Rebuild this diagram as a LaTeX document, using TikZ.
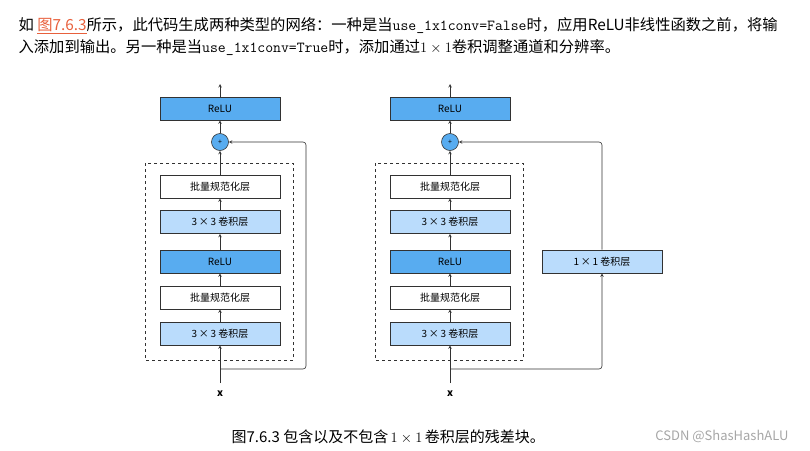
\documentclass[tikz,border=0pt]{standalone}
\usepackage{fontspec}
\setmainfont{Noto Sans CJK SC}
\newfontfamily\cjk{Noto Sans CJK SC}
\usetikzlibrary{positioning}
\usetikzlibrary{arrows}
\definecolor{darkblue}{RGB}{88,172,240}
\definecolor{lightblue}{RGB}{186,220,252}
\definecolor{linkred}{RGB}{232,96,60}
\definecolor{edge}{RGB}{50,50,50}

\begin{document}
\begin{tikzpicture}[
            x = 1pt, y = -1pt,
            > = stealth, % arrow head style
            semithick, % line style
            draw = edge,
            layer/.style = {draw = edge, minimum width = 120pt, minimum height = 23pt,
                inner sep = 0pt, font = \fontsize{10}{10}\selectfont},
            relu/.style = {layer, fill = darkblue},
            conv/.style = {layer, fill = lightblue},
            bn/.style = {layer, fill = white},
            plus/.style = {circle, draw = edge, fill = darkblue, minimum size = 17pt,
                inner sep = 0pt, font = \fontsize{7}{7}\selectfont}
        ]
        \useasboundingbox (0,0) rectangle (810,450);

        % intro text
        \node[anchor = west, font = \fontsize{15.3}{15.3}\selectfont] (line1) at (15,26)
            {如 \textcolor{linkred}{\underline{图7.6.3}}所示，此代码生成两种类型的网络：一种是当\texttt{use\_1x1conv=False}时，应用ReLU非线性函数之前，将输};
        \node[anchor = west, font = \fontsize{15.3}{15.3}\selectfont] (line2) at (15,48)
            {入添加到输出。另一种是当\texttt{use\_1x1conv=True}时，添加通过$1\times1$卷积调整通道和分辨率。};

        \foreach \name/\cx in {L/220, R/450} {
            % block
            \node[relu] (\name top) at (\cx,108.5) {ReLU};
            \node[plus] (\name add) at (\cx,142) {+};
            \node[bn] (\name bnb) at (\cx,186.5) {批量规范化层};
            \node[conv] (\name convb) at (\cx,222) {3\,×\,3 卷积层};
            \node[relu] (\name relu) at (\cx,261.5) {ReLU};
            \node[bn] (\name bna) at (\cx,297.5) {批量规范化层};
            \node[conv] (\name conva) at (\cx,333.5) {3\,×\,3 卷积层};
            \node[font = \fontsize{10}{10}\selectfont] (\name x) at (\cx,394) {$\mathbf{x}$};
            \coordinate (\name out) at (\cx,84);
            \coordinate (\name in) at (\cx,383);
            \coordinate (\name split) at (\cx,369);

            \draw[dashed, thick] (\cx-75,163) rectangle (\cx+73,360);

            \draw[->] (\name in) -- (\name conva);
            \draw[->] (\name conva) -- (\name bna);
            \draw[->] (\name bna) -- (\name relu);
            \draw[->] (\name relu) -- (\name convb);
            \draw[->] (\name convb) -- (\name bnb);
            \draw[->] (\name bnb) -- (\name add);
            \draw[->] (\name add) -- (\name top);
            \draw[->] (\name top) -- (\name out);
        }

        % identity shortcut
        \draw[->, rounded corners = 3pt] (Lsplit) -| (306,142) -- (Ladd);

        % 1x1 shortcut
        \node[conv] (Rshort) at (602,261.5) {1\,×\,1 卷积层};
        \draw[->, rounded corners = 3pt] (Rsplit) -| (Rshort);
        \draw[->, rounded corners = 3pt] (Rshort) |- (Radd);

        % caption
        \node[anchor = west, font = \fontsize{15}{15}\selectfont] (caption) at (228,437)
            {\textit{图7.6.3} 包含以及不包含$\,1\times1\,$卷积层的残差块。};
        \node[anchor = east, text = gray!70, font = \fontsize{13}{13}\selectfont] (mark) at (792,436)
            {CSDN @ShasHashALU};
\end{tikzpicture}
\end{document}
